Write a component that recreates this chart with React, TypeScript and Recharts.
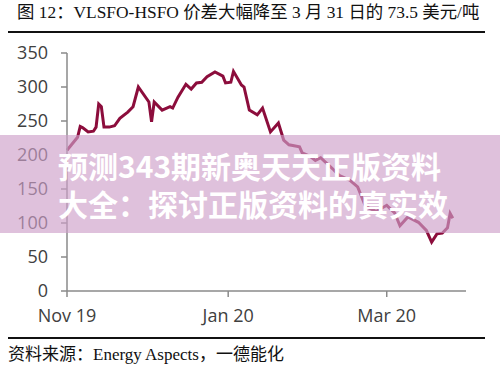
import { LineChart, Line, XAxis, YAxis } from 'recharts';

const dates = [
  '2019-11-01', '2019-11-05', '2019-11-06', '2019-11-07', '2019-11-09', '2019-11-11', '2019-11-12',
  '2019-11-13', '2019-11-14', '2019-11-15', '2019-11-17', '2019-11-19', '2019-11-21', '2019-11-24',
  '2019-11-26', '2019-11-28', '2019-12-02', '2019-12-03', '2019-12-04', '2019-12-07', '2019-12-10',
  '2019-12-11', '2019-12-13', '2019-12-16', '2019-12-18', '2019-12-20', '2019-12-22', '2019-12-24',
  '2019-12-27', '2019-12-30', '2019-12-31', '2020-01-02', '2020-01-03', '2020-01-06', '2020-01-07',
  '2020-01-09', '2020-01-12', '2020-01-14', '2020-01-17', '2020-01-20', '2020-01-22', '2020-01-24',
  '2020-01-28', '2020-01-29', '2020-02-01', '2020-02-03', '2020-02-05', '2020-02-08', '2020-02-10',
  '2020-02-12', '2020-02-16', '2020-02-19', '2020-02-22', '2020-02-26', '2020-03-01', '2020-03-04',
  '2020-03-06', '2020-03-09', '2020-03-13', '2020-03-16', '2020-03-18', '2020-03-20', '2020-03-22',
  '2020-03-24', '2020-03-25', '2020-03-26',
];

const spread = [
  207, 226, 242, 240, 234, 235, 241,
  275, 271, 241, 241, 243, 254, 263,
  271, 300, 278, 249, 278, 266, 271,
  269, 285, 304, 297, 306, 307, 315,
  322, 316, 306, 307, 323, 303, 300,
  266, 259, 269, 234, 247, 222, 215,
  212, 203, 198, 192, 196, 185, 178,
  170, 163, 153, 124, 117, 126, 115,
  96, 109, 101, 89, 72, 84, 85,
  93, 114, 107,
];

const xTicks = ['2019-11-01', '2020-01-01', '2020-03-01'];
const xTickLabels = ['Nov 19', 'Jan 20', 'Mar 20'];
const yTicks = [0, 50, 100, 150, 200, 250, 300, 350];

const data = dates.map((d, i) => ({ t: Date.parse(d), v: spread[i] }));
const xTickValues = xTicks.map((d) => Date.parse(d));
const xDomain = [Date.parse('2019-11-01'), Date.parse('2020-03-31')];

const tickStyle = { fill: '#404040', fontSize: 18, fontFamily: '"Open Sans", sans-serif' };

export default function App() {
  return (
    <div style={{ position: 'absolute', left: 0, top: 0, width: 500, height: 368, background: '#fff', overflow: 'hidden' }}>
      <div
        style={{
          position: 'absolute', left: 17, top: 0, height: 24, lineHeight: '24px', fontSize: 17.4, color: '#111',
          fontFamily: '"Liberation Serif", "Noto Sans CJK SC", serif', whiteSpace: 'nowrap',
        }}
      >
        图 12：VLSFO-HSFO 价差大幅降至 3 月 31 日的 73.5 美元/吨
      </div>
      <div style={{ position: 'absolute', left: 8, top: 31, width: 477, height: 2, background: '#111' }} />

      <div style={{ position: 'absolute', left: 0, top: 0 }}>
        <LineChart width={500} height={368} data={data} margin={{ top: 53, right: 34, bottom: 47, left: 0 }}>
          <XAxis
            dataKey="t"
            type="number"
            domain={xDomain}
            ticks={xTickValues}
            tickFormatter={(v) => xTickLabels[xTickValues.indexOf(v)] ?? ''}
            stroke="#8a8a8a"
            strokeWidth={1.5}
            tickSize={6}
            tickMargin={12}
            height={30}
            tick={tickStyle}
            interval={0}
          />
          <YAxis
            type="number"
            domain={[0, 350]}
            ticks={yTicks}
            stroke="#8a8a8a"
            strokeWidth={1.5}
            tickSize={6}
            tickMargin={13}
            width={67}
            tick={tickStyle}
            interval={0}
          />
          <Line
            type="linear"
            dataKey="v"
            stroke="#8c0d3c"
            strokeWidth={3}
            dot={false}
            isAnimationActive={false}
          />
        </LineChart>
      </div>

      <div
        style={{
          position: 'absolute', left: 0, top: 135, width: 500, height: 98, background: 'rgba(206,160,201,0.65)',
        }}
      >
        <div
          style={{
            position: 'absolute', left: 58, top: 11, color: '#fff', fontSize: 30, lineHeight: '38px', fontWeight: 700,
            fontFamily: '"Noto Sans CJK SC", sans-serif', whiteSpace: 'nowrap',
          }}
        >
          <div>预测343期新奥天天正版资料</div>
          <div>大全：探讨正版资料的真实效</div>
        </div>
      </div>

      <div style={{ position: 'absolute', left: 8, top: 337, width: 477, height: 2, background: '#111' }} />
      <div
        style={{
          position: 'absolute', left: 8, top: 343, height: 24, lineHeight: '24px', fontSize: 17, color: '#111',
          fontFamily: '"Liberation Serif", "Noto Sans CJK SC", serif', whiteSpace: 'nowrap',
        }}
      >
        资料来源：Energy Aspects，一德能化
      </div>
    </div>
  );
}
